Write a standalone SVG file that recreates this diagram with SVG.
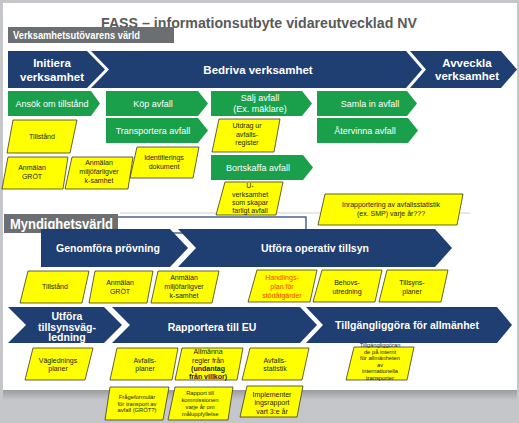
<svg xmlns="http://www.w3.org/2000/svg" width="519" height="423" viewBox="0 0 519 423">
<defs>
<linearGradient id="shadow" x1="0" y1="0" x2="0" y2="1">
<stop offset="0" stop-color="#9a9b9f"/>
<stop offset="1" stop-color="#c5c6ca"/>
</linearGradient>
<style>
.chev{fill:#1f3e71}
.grn{fill:#1a9f4b}
.yel{fill:#ffff00;stroke:#3b3b1e;stroke-width:0.8}
.lbl{fill:#6c6f71}
.tw{fill:#ffffff;font-family:"Liberation Sans",Arial,sans-serif;font-weight:bold;text-anchor:middle}
.tg{fill:#ffffff;font-family:"Liberation Sans",Arial,sans-serif;font-size:9px;text-anchor:middle}
.ty{fill:#1a1a1a;font-family:"Liberation Sans",Arial,sans-serif;font-size:7px;text-anchor:middle}
.tr{fill:#ff3b00}
.ts{font-size:5.8px}
.b{font-weight:bold}
</style>
</defs>
<rect x="0" y="0" width="519" height="423" fill="#c5c6ca"/>
<rect x="3" y="390" width="514" height="10" fill="url(#shadow)"/>
<rect x="3" y="3" width="514" height="387" fill="#ffffff"/>
<g id="title">
<text x="101" y="28" font-family="'Liberation Sans',Arial,sans-serif" font-size="14.5" font-weight="bold" fill="#5a5a5a" textLength="316" lengthAdjust="spacingAndGlyphs">FASS – informationsutbyte  vidareutvecklad NV</text>
</g>
<g id="label-verksamhet">
<rect class="lbl" x="8" y="27" width="166" height="16"/>
<text x="13" y="39" font-family="'Liberation Sans',Arial,sans-serif" font-size="11" font-weight="bold" fill="#ffffff" textLength="127" lengthAdjust="spacingAndGlyphs">Verksamhetsutövarens  värld</text>
</g>
<g id="separator">
<line x1="120" y1="213" x2="470" y2="213" stroke="#cfcfcf" stroke-width="1"/>
<rect x="100" y="217" width="206" height="16" fill="#ffffff" stroke="#1f3e71" stroke-width="1.2"/>
</g>
<g id="connectors"/>
<g id="initiera">
<polygon class="chev" points="8,51 87,51 105,69.5 87,88 8,88"/>
<text class="tw" font-size="11.5"><tspan x="52" y="67">Initiera</tspan><tspan x="52" y="81">verksamhet</tspan></text>
</g>
<g id="bedriva">
<polygon class="chev" points="91,51 406,51 422,69.5 406,88 91,88 109,69.5"/>
<text class="tw" font-size="11.5" x="258" y="74">Bedriva verksamhet</text>
</g>
<g id="avveckla">
<polygon class="chev" points="410,51 501,51 517,69.5 501,88 410,88 426,69.5"/>
<text class="tw" font-size="11.5"><tspan x="467" y="67">Avveckla</tspan><tspan x="467" y="80">verksamhet</tspan></text>
</g>
<g id="ansok">
<polygon class="grn" points="8,91 91,91 100,103.5 91,116 8,116"/>
<text class="tg" x="52" y="107">Ansök om tillstånd</text>
</g>
<g id="kop">
<polygon class="grn" points="106,91 198,91 208,103.5 198,116 106,116"/>
<text class="tg" x="153" y="107">Köp avfall</text>
</g>
<g id="salj">
<polygon class="grn" points="211,91 302,91 312,103.5 302,116 211,116"/>
<text class="tg"><tspan x="260" y="101">Sälj avfall</tspan><tspan x="260" y="112">(Ex. mäklare)</tspan></text>
</g>
<g id="samla">
<polygon class="grn" points="317,91 407,91 417,103.5 407,116 317,116"/>
<text class="tg" x="370" y="107">Samla in avfall</text>
</g>
<g id="transportera">
<polygon class="grn" points="106,118 198,118 208,130.5 198,143 106,143"/>
<text class="tg" x="153" y="134">Transportera avfall</text>
</g>
<g id="atervinna">
<polygon class="grn" points="317,118 408,118 418,130.5 408,143 317,143"/>
<text class="tg" x="365" y="134">Återvinna avfall</text>
</g>
<g id="bortskaffa">
<polygon class="grn" points="211,155 303,155 313,167.5 303,180 211,180"/>
<text class="tg" x="258" y="171">Bortskaffa avfall</text>
</g>
<g id="v-tillstand">
<polygon class="yel" points="13,120 77,120 70,153 7,153"/>
<text class="ty" x="42" y="139">Tillstånd</text>
</g>
<g id="v-anmalan-grot">
<polygon class="yel" points="8,157 68,157 63,189 2,189"/>
<text class="ty"><tspan x="32" y="170">Anmälan</tspan><tspan x="32" y="179">GRÖT</tspan></text>
</g>
<g id="v-anmalan-miljo">
<polygon class="yel" points="72,157 133,157 128,189 65,189"/>
<text class="ty"><tspan x="99" y="165">Anmälan</tspan><tspan x="99" y="174">miljöfarligver</tspan><tspan x="99" y="183">k-samhet</tspan></text>
</g>
<g id="v-identifierings">
<polygon class="yel" points="137,147 199,147 193,178 130,178"/>
<text class="ty"><tspan x="164" y="160">Identifierings</tspan><tspan x="164" y="169">dokument</tspan></text>
</g>
<g id="v-utdrag">
<polygon class="yel" points="219,119 280,119 274,152 212,152"/>
<text class="ty"><tspan x="247" y="128">Utdrag ur</tspan><tspan x="247" y="136.5">avfalls-</tspan><tspan x="247" y="145">register</tspan></text>
</g>
<g id="v-uverksamhet">
<polygon class="yel" points="225,182 283,182 276,215 216,215"/>
<text class="ty"><tspan x="250" y="188">U-</tspan><tspan x="250" y="196.5">verksamhet</tspan><tspan x="250" y="204.5">som skapar</tspan><tspan x="250" y="212.5">farligt avfall</tspan></text>
</g>
<g id="v-inrapportering">
<polygon class="yel" points="325,194 463,194 457,225 318,225"/>
<text class="ty"><tspan x="391" y="207">Inrapportering av avfallsstatistik</tspan><tspan x="391" y="215.5">(ex. SMP) varje år???</tspan></text>
</g>
<g id="label-myndighet">
<rect class="lbl" x="4" y="214" width="114" height="19"/>
<text x="10" y="229" font-family="'Liberation Sans',Arial,sans-serif" font-size="15" font-weight="bold" fill="#ffffff" textLength="103" lengthAdjust="spacingAndGlyphs">Myndighetsvärld</text>
</g>
<g id="genomfora">
<polygon class="chev" points="41,229 170,229 188,248 170,267 41,267"/>
<text class="tw" font-size="10.5" x="108" y="252">Genomföra prövning</text>
</g>
<g id="operativ">
<polygon class="chev" points="178,229 435,229 452,248 435,267 178,267 196,248"/>
<text class="tw" font-size="10.5" x="315" y="252">Utföra operativ tillsyn</text>
</g>
<g id="m-tillstand">
<polygon class="yel" points="28,271 89,271 82,303 20,303"/>
<text class="ty" x="55" y="289">Tillstånd</text>
</g>
<g id="m-anmalan-grot">
<polygon class="yel" points="95,271 153,271 147,303 89,303"/>
<text class="ty"><tspan x="120" y="284.5">Anmälan</tspan><tspan x="120" y="293.5">GRÖT</tspan></text>
</g>
<g id="m-anmalan-miljo">
<polygon class="yel" points="158,271 219,271 212,303 151,303"/>
<text class="ty"><tspan x="184" y="280">Anmälan</tspan><tspan x="184" y="289">miljöfarligver</tspan><tspan x="184" y="297.5">k-samhet</tspan></text>
</g>
<g id="m-handlingsplan">
<polygon class="yel" points="257,270 317,270 310,302 248,302"/>
<text class="ty tr"><tspan x="282" y="280">Handlings-</tspan><tspan x="282" y="289">plan för</tspan><tspan x="282" y="297.5">stödåtgärder</tspan></text>
</g>
<g id="m-behovs">
<polygon class="yel" points="322,270 382,270 375,302 313,302"/>
<text class="ty"><tspan x="347" y="284.5">Behovs-</tspan><tspan x="347" y="293.5">utredning</tspan></text>
</g>
<g id="m-tillsyns">
<polygon class="yel" points="387,270 448,270 441,302 379,302"/>
<text class="ty"><tspan x="412" y="284.5">Tillsyns-</tspan><tspan x="412" y="293.5">planer</tspan></text>
</g>
<g id="vagledning">
<polygon class="chev" points="8,307 104,307 122,325 104,343 8,343 26,325"/>
<text class="tw" font-size="10.5"><tspan x="67" y="319.5">Utföra</tspan><tspan x="67" y="330.5">tillsynsväg-</tspan><tspan x="67" y="341">ledning</tspan></text>
</g>
<g id="rapportera">
<polygon class="chev" points="112,307 300,307 317,325 300,343 112,343 130,325"/>
<text class="tw" font-size="10.5" x="212" y="330.5">Rapportera till EU</text>
</g>
<g id="tillgangliggora">
<polygon class="chev" points="306,307 497,307 512,325 497,343 306,343 323,325"/>
<text class="tw" font-size="10.5" x="407" y="328.5">Tillgängliggöra för allmänhet</text>
</g>
<g id="r-vaglednings">
<polygon class="yel" points="33,348 93,348 85,380 25,380"/>
<text class="ty"><tspan x="58" y="362.5">Väglednings</tspan><tspan x="58" y="371">planer</tspan></text>
</g>
<g id="r-avfallsplaner">
<polygon class="yel" points="117,348 178,348 172,380 110,380"/>
<text class="ty"><tspan x="145" y="362.5">Avfalls-</tspan><tspan x="145" y="371">planer</tspan></text>
</g>
<g id="r-allmanna">
<polygon class="yel" points="182,348 243,348 237,380 175,380"/>
<text class="ty"><tspan x="208" y="354">Allmänna</tspan><tspan x="208" y="363">regler från</tspan><tspan class="b" x="208" y="371">(undantag</tspan><tspan class="b" x="208" y="378.5">från villkor)</tspan></text>
</g>
<g id="r-avfallsstatistik">
<polygon class="yel" points="250,348 309,348 302,380 242,380"/>
<text class="ty"><tspan x="275" y="362.5">Avfalls-</tspan><tspan x="275" y="371">statistik</tspan></text>
</g>
<g id="r-tillgangliggoran">
<polygon class="yel" points="354,347 414,347 407,380 346,380"/>
<text class="ty ts"><tspan x="380" y="347">Tillgängliggöran</tspan><tspan x="380" y="353.5">de på internt</tspan><tspan x="380" y="360">för allmänheten</tspan><tspan x="380" y="366.5">av</tspan><tspan x="380" y="373">internationella</tspan><tspan x="380" y="379.5">transporter</tspan></text>
</g>
<g id="b-frageformular">
<polygon class="yel" points="110,387 169,387 163,420 105,420"/>
<text class="ty ts"><tspan x="137" y="399">Frågeformulär</tspan><tspan x="137" y="405.5">för transport av</tspan><tspan x="137" y="412">avfall (GRÖT?)</tspan></text>
</g>
<g id="b-rapport">
<polygon class="yel" points="175,387 233,387 228,420 168,420"/>
<text class="ty ts"><tspan x="200" y="395">Rapport till</tspan><tspan x="200" y="402">kommissionen</tspan><tspan x="200" y="409">varje år om</tspan><tspan x="200" y="416">måluppfyllelse</tspan></text>
</g>
<g id="b-implementer">
<polygon class="yel" points="247,386 303,386 297,417 240,417"/>
<text class="ty"><tspan x="272" y="396.5">Implementer</tspan><tspan x="272" y="405">ingsrapport</tspan><tspan x="272" y="413.5">vart 3:e år</tspan></text>
</g>
</svg>
